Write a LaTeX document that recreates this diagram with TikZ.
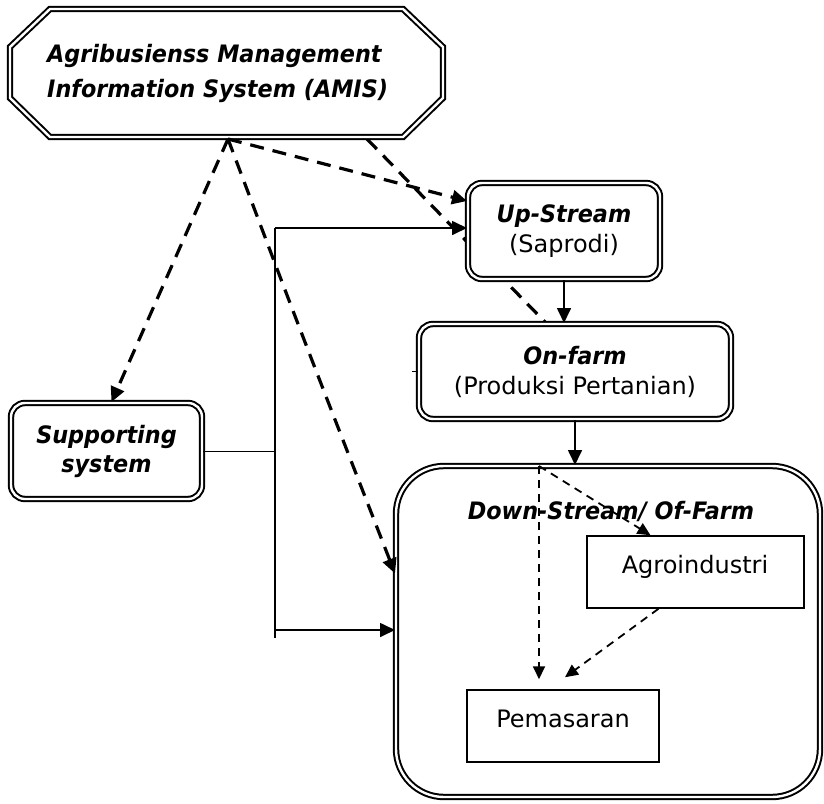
\documentclass[tikz,border=0pt]{standalone}
\usepackage{fontspec}
\setmainfont{DejaVu Sans}
\newfontfamily\bifam{DejaVu Sans}[FakeStretch=0.93]
\usetikzlibrary{arrows.meta}
\newcommand\bitext[1]{{\bifam\bfseries\itshape #1}}
\begin{document}
\begin{tikzpicture}[x=1pt,y=-1pt,
  every node/.style={font=\fontsize{24}{30}\selectfont, inner sep=0pt},
  dbl/.style={draw, line width=2pt, double=white, double distance=2.4pt},
  rbox/.style={dbl, rectangle, rounded corners=14pt, align=center},
  pbox/.style={draw, line width=1.5pt, fill=white, rectangle},
  arr/.style={-{Triangle[length=15pt,width=14pt]}},
  thickdash/.style={line width=3.2pt, dash pattern=on 14pt off 9pt},
  thindash/.style={line width=1.8pt, dash pattern=on 8pt off 6pt, -{Triangle[length=13pt,width=12pt]}},
  solidline/.style={line width=1.7pt}
]
\useasboundingbox (0,0) rectangle (824,803);

% named free ends
\coordinate (apex) at (228,139);
\coordinate (amisr) at (367,139);
\coordinate (bustop) at (275,228);
\coordinate (busmid) at (275,451);
\coordinate (buslow) at (275,630);
\coordinate (busbot) at (275,638);
\coordinate (dsplit) at (539,466);

% dashed line passing behind Up-Stream (drawn first)
\draw[thickdash] (amisr) -- (545,322) coordinate (ofin);

% AMIS octagon
\node[rectangle, minimum width=433pt, minimum height=128pt] (amis) at (226.5,73) {};
\draw[dbl, fill=white] (50,9) -- (403,9) -- (443,47) -- (443,98) -- (403,137)
  -- (50,137) -- (10,98) -- (10,47) -- cycle;
\node[anchor=west, align=left, font=\fontsize{24}{35}\selectfont] (amistext) at (47,73)
  {\bitext{Agribusienss Management}\\\bitext{Information System (AMIS)}};

\node[rbox, fill=white, minimum width=192pt, minimum height=96pt] (up) at (564,231)
  {\bitext{Up-Stream}\\(Saprodi)};
\node[rbox, fill=white, minimum width=312pt, minimum height=95pt] (onfarm) at (575,371.5)
  {\bitext{On-farm}\\(Produksi Pertanian)};
\node[rbox, fill=white, minimum width=191pt, minimum height=96pt,
      font=\fontsize{24}{29}\selectfont] (supp) at (106.5,451)
  {\bitext{Supporting}\\\bitext{system}};
\node[dbl, fill=white, rectangle, rounded corners=48pt, minimum width=424pt, minimum height=331pt] (down) at (608,631.5) {};

\draw[line width=1.3pt] (onfarm.west) -- ++(-6,0);

\node[anchor=base] (downtitle) at (611,519) {\bitext{Down-Stream/ Of-Farm}};

\node[pbox, minimum width=217pt, minimum height=72pt] (agro) at (695.5,572) {};
\node[anchor=base] (agrotext) at (695,573) {Agroindustri};
\node[pbox, minimum width=192pt, minimum height=72pt] (pem) at (563,726) {};
\node[anchor=base] (pemtext) at (563,727) {Pemasaran};

% thick dashed arrows from AMIS
\draw[thickdash, arr] (apex) -- ([xshift=5pt]supp.north);
\draw[thickdash, arr] (apex) .. controls (300,330) .. ([yshift=58pt]down.west);
\draw[thickdash, arr] (apex) -- ([yshift=30pt]up.west);

% bus
\draw[line width=1pt] (supp.east) -- (busmid);
\draw[solidline] (bustop) -- (busbot);
\draw[solidline, arr] (bustop) -- (bustop -| up.west);
\draw[solidline, arr] (buslow) -- (buslow -| down.west);

% vertical flow
\draw[solidline, arr] (up.south) -- (up.south |- onfarm.north);
\draw[solidline, arr] (onfarm.south) -- (onfarm.south |- down.north);

% inside Down-Stream
\draw[thindash] (dsplit) -- ([xshift=-24pt,yshift=10pt]pem.north);
\draw[thindash] (dsplit) -- ([xshift=-45pt]agro.north);
\draw[thindash] ([xshift=-37pt]agro.south) -- ([xshift=2pt,yshift=12pt]pem.north);
\end{tikzpicture}
\end{document}
